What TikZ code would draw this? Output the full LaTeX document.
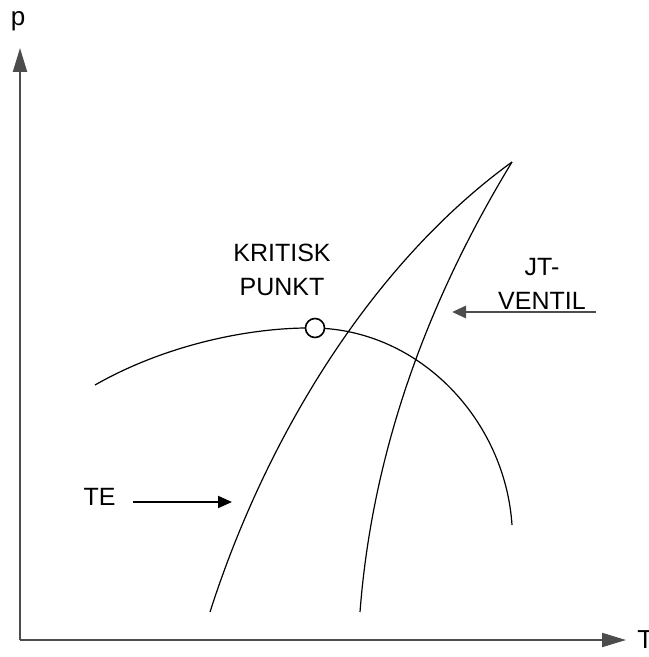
\documentclass[tikz,border=0pt]{standalone}
\usepackage{fontspec}
\setmainfont{Liberation Sans}
\usetikzlibrary{arrows.meta}

\begin{document}
\begin{tikzpicture}[
    x=0.5pt, y=-0.5pt,  % une unité = un pixel de l'image
    % Réglages des styles
    axe/.style={draw=black!70, line width=1pt, -{Triangle[length=12pt, width=7pt]}},
    courbe/.style={draw, line width=0.6pt},
    fleche/.style={draw, line width=1pt, -{Triangle[length=7pt, width=6pt]}},
    texte/.style={font=\fontsize{12.5}{14}\selectfont, align=center, inner sep=0pt}
]
\useasboundingbox (0,0) rectangle (648,657);

% Axes
\coordinate (O) at (20,640);
\coordinate (haut) at (20,48);
\coordinate (droite) at (626,640);
\draw[axe] (O) -- (haut);
\draw[axe] (O) -- (droite);
\node[texte, font=\fontsize{13}{14}\selectfont] (p) at (18,21) {p};
\node[texte, font=\fontsize{13}{14}\selectfont, anchor=west] (T) at (637,640) {T};

% Courbe de saturation et point critique
\draw[courbe] (95,385) .. controls (165,345) and (250,327) .. (315,328)
    .. controls (420,330) and (505,420) .. (512,525);
\node[draw, circle, fill=white, line width=0.8pt, minimum size=9.5pt, inner sep=0pt] (kp) at (315,328) {};
\node[texte] (kritisk) at (282,270) {KRITISK\\[3pt]PUNKT};

% Courbes TE et JT
\coordinate (sommet) at (512,162);
\draw[courbe] (210,612) .. controls (265,440) and (370,265) .. (sommet);
\draw[courbe] (360,612) .. controls (372,455) and (425,305) .. (sommet);

% Étiquettes et flèches
\node[texte, anchor=east] (te) at (116,497) {TE};
\coordinate (tebout) at (232,502);
\draw[fleche] (133,502) coordinate (tedebut) -- (tebout);

\node[texte] (jt) at (542,284) {JT-\\[3pt]VENTIL};
\coordinate (jtdebut) at (596,312);
\coordinate (jtbout) at (452,312);
\draw[fleche, draw=black!70, line width=1.4pt] (jtdebut) -- (jtbout);
\end{tikzpicture}
\end{document}
